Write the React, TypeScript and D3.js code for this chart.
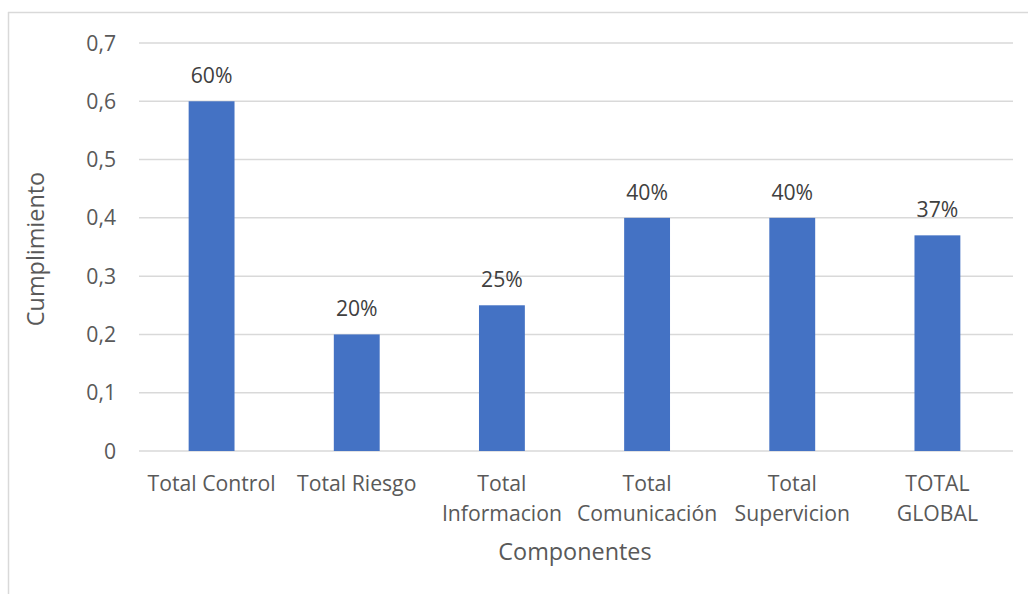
import React from "react";
import * as d3 from "d3";

const categories: string[][] = [
  ["Total Control"],
  ["Total Riesgo"],
  ["Total", "Informacion"],
  ["Total", "Comunicación"],
  ["Total", "Supervicion"],
  ["TOTAL", "GLOBAL"],
];
const values: number[] = [0.6, 0.2, 0.25, 0.4, 0.4, 0.37];
const yTicks: number[] = [0, 0.1, 0.2, 0.3, 0.4, 0.5, 0.6, 0.7];

const W = 1028;
const H = 594;
const FONT = "'Open Sans', sans-serif";

export default function App() {
  const x = d3
    .scaleBand<number>()
    .domain(values.map((_, i) => i))
    .range([139, 1010])
    .paddingInner(0.684)
    .paddingOuter(0.342);
  const y = d3.scaleLinear().domain([0, 0.7]).range([451, 43]);
  const fmtTick = (v: number) => (v === 0 ? "0" : d3.format(".1f")(v).replace(".", ","));
  const fmtPct = d3.format(".0%");
  const cx = (i: number) => (x(i) as number) + x.bandwidth() / 2;

  return (
    <svg
      width={W}
      height={H}
      style={{ position: "absolute", left: 0, top: 0, background: "#fff" }}
    >
      {/* chart area frame */}
      <line x1={8} x2={W} y1={12.5} y2={12.5} stroke="#d9d9d9" strokeWidth={1.5} />
      <line x1={8.5} x2={8.5} y1={12} y2={H} stroke="#d9d9d9" strokeWidth={1.5} />

      {/* gridlines */}
      {yTicks.map((t) => (
        <line
          key={t}
          x1={139}
          x2={1013}
          y1={y(t)}
          y2={y(t)}
          stroke="#d9d9d9"
          strokeWidth={1.5}
        />
      ))}

      {/* y tick labels */}
      {yTicks.map((t) => (
        <text
          key={"t" + t}
          x={116}
          y={y(t)}
          dy="0.36em"
          textAnchor="end"
          fontFamily={FONT}
          fontSize={21.2}
          fill="#595959"
        >
          {fmtTick(t)}
        </text>
      ))}

      {/* bars */}
      {values.map((v, i) => (
        <rect
          key={"b" + i}
          x={x(i)}
          y={y(v)}
          width={x.bandwidth()}
          height={y(0) - y(v)}
          fill="#4472c4"
        />
      ))}

      {/* data labels */}
      {values.map((v, i) => (
        <text
          key={"l" + i}
          x={cx(i)}
          y={y(v) - 18}
          textAnchor="middle"
          fontFamily={FONT}
          fontSize={21.2}
          fill="#404040"
        >
          {fmtPct(v)}
        </text>
      ))}

      {/* category labels */}
      {categories.map((lines, i) => (
        <text
          key={"c" + i}
          y={491}
          textAnchor="middle"
          fontFamily={FONT}
          fontSize={21.2}
          fill="#595959"
        >
          {lines.map((ln, j) => (
            <tspan key={j} x={cx(i)} dy={j === 0 ? 0 : 30}>
              {ln}
            </tspan>
          ))}
        </text>
      ))}

      {/* axis titles */}
      <text
        x={575}
        y={560}
        textAnchor="middle"
        fontFamily={FONT}
        fontSize={23.4}
        fill="#595959"
      >
        Componentes
      </text>
      <text
        transform={`translate(44, 249) rotate(-90)`}
        textAnchor="middle"
        fontFamily={FONT}
        fontSize={23.4}
        fill="#595959"
      >
        Cumplimiento
      </text>
    </svg>
  );
}
